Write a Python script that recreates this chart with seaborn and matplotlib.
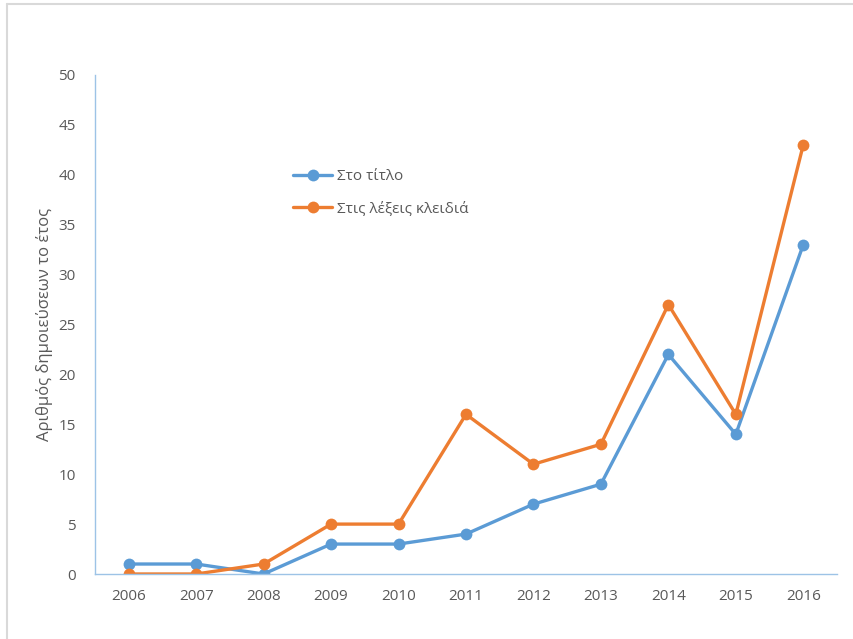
import matplotlib
matplotlib.use("Agg")
import matplotlib.pyplot as plt
from matplotlib.lines import Line2D
import pandas as pd
import seaborn as sns

years = ["2006", "2007", "2008", "2009", "2010", "2011", "2012", "2013", "2014", "2015", "2016"]
in_title = [1, 1, 0, 3, 3, 4, 7, 9, 22, 14, 33]
in_keywords = [0, 0, 1, 5, 5, 16, 11, 13, 27, 16, 43]
series_names = ["Στο τίτλο", "Στις λέξεις κλειδιά"]
y_ticks = [0, 5, 10, 15, 20, 25, 30, 35, 40, 45, 50]

df = pd.DataFrame({
    "year": years * 2,
    "value": in_title + in_keywords,
    "series": [series_names[0]] * len(years) + [series_names[1]] * len(years),
})

sns.set_theme(style="white")
plt.rcParams["font.family"] = ["Open Sans", "DejaVu Sans"]

text_color = "#595959"
palette = {series_names[0]: "#5B9BD5", series_names[1]: "#ED7D31"}

fig = plt.figure(figsize=(8.54, 6.39), dpi=100)
ax = fig.add_axes([95 / 854, 1 - 574 / 639, (837 - 95) / 854, (574 - 75) / 639])

sns.lineplot(data=df, x="year", y="value", hue="series", palette=palette,
             marker="o", markersize=8.5, markeredgewidth=0, linewidth=2.4,
             sort=False, legend=False, ax=ax)

ax.set_xlim(-0.5, len(years) - 0.5)
ax.set_ylim(0, 50)
ax.set_yticks(y_ticks)
ax.set_xlabel("")
ax.set_ylabel("Αριθμός δημοιεύσεων το έτος", fontsize=12, color=text_color, labelpad=4)
ax.tick_params(axis="both", length=0, labelsize=11, labelcolor=text_color)
ax.tick_params(axis="y", pad=14)
ax.tick_params(axis="x", pad=11)

for side in ["top", "right"]:
    ax.spines[side].set_visible(False)
for side in ["left", "bottom"]:
    ax.spines[side].set_color("#9DC3E6")
    ax.spines[side].set_linewidth(1.0)

handles = [Line2D([0], [0], color=palette[n], lw=2.4, marker="o", markersize=8.5,
                  markeredgewidth=0) for n in series_names]
leg = fig.legend(handles, series_names, loc="center left",
                 bbox_to_anchor=(279 / 854, 1 - 193 / 639), frameon=False,
                 fontsize=11, labelcolor=text_color, handlelength=2.6,
                 handletextpad=0.3, labelspacing=1.15)

# chart frame (top and left edges)
fig.add_artist(Line2D([7 / 854, 7 / 854], [0, 1 - 4 / 639], transform=fig.transFigure,
                      color="#D9D9D9", lw=1.5))
fig.add_artist(Line2D([7 / 854, 1], [1 - 4 / 639, 1 - 4 / 639], transform=fig.transFigure,
                      color="#D9D9D9", lw=1.5))

fig.savefig("out.png", dpi=100, facecolor="white")
